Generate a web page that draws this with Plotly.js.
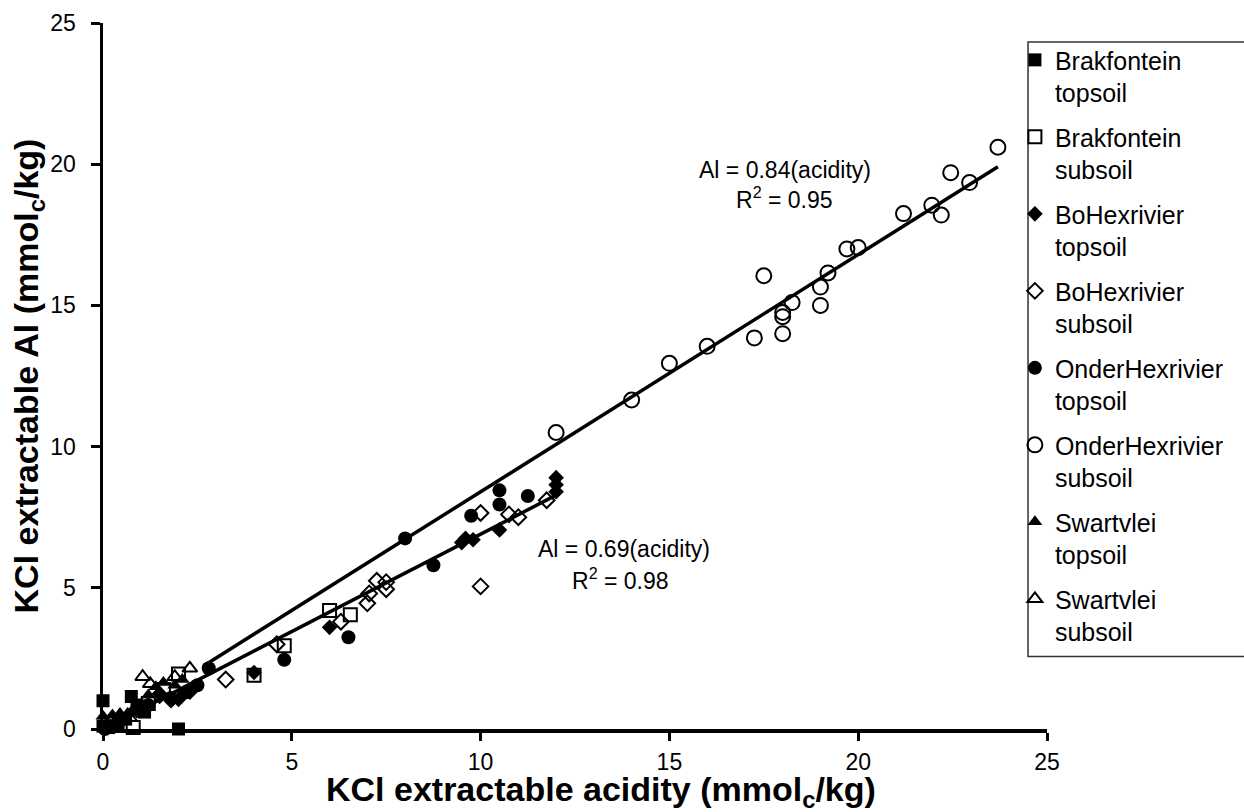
<!DOCTYPE html>
<html>
<head>
<meta charset="utf-8">
<script src="https://cdn.plot.ly/plotly-3.0.1.min.js"></script>
<style>html,body{margin:0;padding:0;background:#fff;overflow:hidden;}#chart{width:1244px;height:812px;}</style>
</head>
<body>
<div id="chart"></div>
<script>
// ---- data ----
const seriesNames = [
  "Brakfontein<br>topsoil", "Brakfontein<br>subsoil",
  "BoHexrivier<br>topsoil", "BoHexrivier<br>subsoil",
  "OnderHexrivier<br>topsoil", "OnderHexrivier<br>subsoil",
  "Swartvlei<br>topsoil", "Swartvlei<br>subsoil"
];

const brakTopX = [0, 0.75, 2.0, 0, 0.15, 0.4, 0.9, 1.1, 0.6];
const brakTopY = [1.0, 1.15, 0.0, 0.1, 0.05, 0.2, 0.85, 0.6, 0.35];

const brakSubX = [0.8, 2.0, 4.0, 4.8, 6.0, 6.55, 1.6, 1.2];
const brakSubY = [0.05, 1.95, 1.9, 2.95, 4.2, 4.05, 1.4, 0.9];

const boTopX = [12.0, 12.0, 12.0, 10.5, 9.5, 9.6, 9.8, 6.0, 4.0, 2.0, 2.3, 1.5, 1.0, 0.5, 0.2, 1.8];
const boTopY = [8.9, 8.65, 8.4, 7.05, 6.6, 6.75, 6.7, 3.6, 2.0, 1.05, 1.3, 1.25, 0.65, 0.3, 0.1, 1.0];

const boSubX = [11.75, 10.75, 11.0, 10.0, 10.0, 7.0, 7.05, 7.25, 7.5, 7.5, 6.3, 4.6, 3.25, 1.5, 0.9];
const boSubY = [8.1, 7.6, 7.5, 7.65, 5.05, 4.45, 4.8, 5.25, 4.95, 5.2, 3.8, 3.0, 1.75, 1.2, 0.7];

const onderTopX = [11.25, 10.5, 10.5, 9.75, 8.75, 8.0, 6.5, 4.8, 2.8, 2.5, 1.2, 0.3, 0.05, 2.2, 1.8];
const onderTopY = [8.25, 8.45, 7.95, 7.55, 5.8, 6.75, 3.25, 2.45, 2.15, 1.55, 0.85, 0.1, 0.0, 1.3, 1.1];

const onderSubX = [23.7, 22.45, 22.95, 21.95, 22.2, 21.2, 19.7, 20.0, 19.2, 19.0, 19.0, 17.5, 18.25, 18.0, 18.0, 18.0, 17.25, 16.0, 15.0, 14.0, 12.0];
const onderSubY = [20.6, 19.7, 19.35, 18.55, 18.2, 18.25, 17.0, 17.05, 16.15, 15.65, 15.0, 16.05, 15.1, 14.75, 14.6, 14.0, 13.85, 13.55, 12.95, 11.65, 10.5];

const swartTopX = [0, 0.25, 0.45, 0.65, 1.0, 1.4, 1.6, 1.9, 2.1, 0.1, 0.8, 1.2];
const swartTopY = [0.45, 0.5, 0.55, 0.55, 0.85, 1.5, 1.65, 1.55, 1.75, 0.2, 0.6, 1.2];

const swartSubX = [1.05, 1.25, 2.3, 1.9, 0.7];
const swartSubY = [1.85, 1.6, 2.15, 1.85, 0.4];

// regression lines: slope and x-range of each fit, and their labels
const fitSlopes = [0.84, 0.69];
const fitXRange = [[2.66, 23.7], [0, 12.0]];
const fitEquations = ["Al = 0.84(acidity)", "Al = 0.69(acidity)"];
const fitR2 = ["R<sup>2</sup> = 0.95", "R<sup>2</sup> = 0.98"];

const xTicks = [0, 5, 10, 15, 20, 25];
const yTicks = [0, 5, 10, 15, 20, 25];
const xTitle = "KCl extractable acidity (mmol<sub>c</sub>/kg)";
const yTitle = "KCl extractable Al (mmol<sub>c</sub>/kg)";

// ---- styling ----
const FONT = "Liberation Sans, Arial, sans-serif";
const xs = [brakTopX, brakSubX, boTopX, boSubX, onderTopX, onderSubX, swartTopX, swartSubX];
const ys = [brakTopY, brakSubY, boTopY, boSubY, onderTopY, onderSubY, swartTopY, swartSubY];
const symbols = ["square", "square-open", "diamond", "diamond-open", "circle", "circle-open", "triangle-up", "triangle-up-open"];
const sizes = [13, 13, 12, 12, 14, 15, 13, 13];

const traces = xs.map((x, i) => ({
  type: "scatter", mode: "markers", x: x, y: ys[i], name: seriesNames[i],
  legendgroup: "g" + i, cliponaxis: false,
  marker: { symbol: symbols[i], size: sizes[i], color: "#000",
            line: { color: "#000", width: symbols[i].endsWith("open") ? 2 : 0 } }
}));

fitSlopes.forEach((m, k) => {
  const xr = fitXRange[k];
  traces.push({
    type: "scatter", mode: "lines", x: xr, y: xr.map(v => m * v),
    showlegend: false, hoverinfo: "skip", cliponaxis: false,
    line: { color: "#000", width: 3.5 }
  });
});

const annFont = { size: 23, family: FONT, color: "#000" };
const layout = {
  width: 1244, height: 812,
  margin: { l: 103, r: 197, t: 23, b: 83, autoexpand: false },
  paper_bgcolor: "#fff", plot_bgcolor: "#fff",
  font: { family: FONT, color: "#000", size: 23 },
  showlegend: true,
  xaxis: {
    range: [0, 25], tickvals: xTicks, ticktext: xTicks.map(String),
    showgrid: false, zeroline: false, showline: true, linecolor: "#000", linewidth: 3.5,
    ticks: "outside", ticklen: 8, tickwidth: 3, tickcolor: "#000",
    tickfont: { size: 23, family: FONT, color: "#000" }, ticklabelstandoff: 2, automargin: false
  },
  yaxis: {
    range: [0, 25], tickvals: yTicks, ticktext: yTicks.map(String),
    showgrid: false, zeroline: false, showline: true, linecolor: "#000", linewidth: 3.5,
    ticks: "outside", ticklen: 9, tickwidth: 3, tickcolor: "#000",
    tickfont: { size: 23, family: FONT, color: "#000" }, ticklabelstandoff: 10, automargin: false,
    title: { text: yTitle, font: { size: 34, family: FONT, weight: "bold" }, standoff: 0 }
  },
  legend: {
    x: 0.966, y: 0.98, xanchor: "left", yanchor: "top",
    bgcolor: "rgba(0,0,0,0)", borderwidth: 0,
    font: { size: 25, family: FONT }, tracegroupgap: 9, valign: "top", itemwidth: 30
  },
  shapes: [
    { type: "rect", xref: "paper", yref: "paper", x0: 0.9799, x1: 1.215, y0: 0.1026, y1: 0.9731,
      line: { color: "#333", width: 1.5 }, fillcolor: "#fff", layer: "above" }
  ],
  annotations: [
    { x: 0.5275, y: -0.088, xref: "paper", yref: "paper", xanchor: "center", yanchor: "middle",
      text: xTitle, showarrow: false, font: { size: 34, family: FONT, weight: "bold", color: "#000" } },
    { x: 18.06, y: 19.78, xref: "x", yref: "y", text: fitEquations[0], showarrow: false, font: annFont },
    { x: 18.06, y: 18.8, xref: "x", yref: "y", text: fitR2[0], showarrow: false, font: annFont },
    { x: 13.8, y: 6.36, xref: "x", yref: "y", text: fitEquations[1], showarrow: false, font: annFont },
    { x: 13.7, y: 5.3, xref: "x", yref: "y", text: fitR2[1], showarrow: false, font: annFont }
  ]
};

Plotly.newPlot("chart", traces, layout, { displayModeBar: false, staticPlot: true });
</script>
</body>
</html>
